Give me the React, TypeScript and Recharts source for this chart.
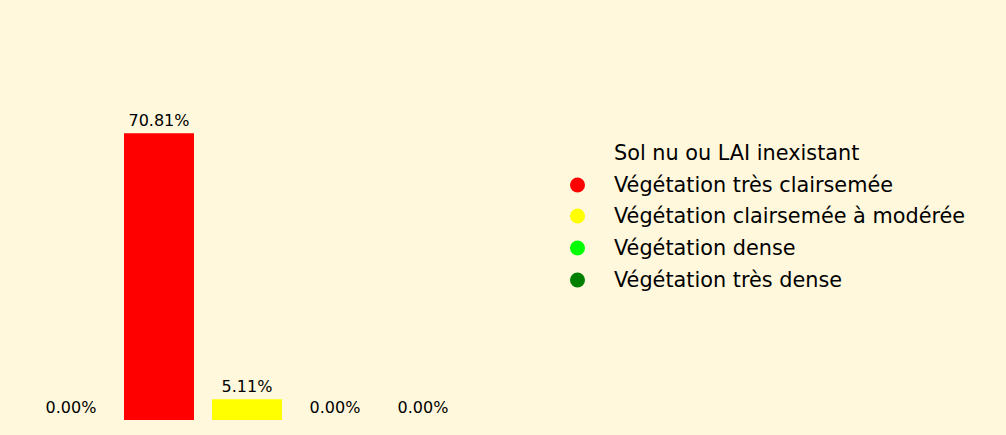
import { BarChart, Bar, XAxis, YAxis, Legend, LabelList, Cell } from 'recharts';

const categories = [
    'Sol nu ou LAI inexistant',
    'Végétation très clairsemée',
    'Végétation clairsemée à modérée',
    'Végétation dense',
    'Végétation très dense',
];
const percentages = [0.0, 70.81, 5.11, 0.0, 0.0];
const colors = ['#FFF8DC', '#FF0000', '#FFFF00', '#00FF00', '#008000'];

const data = categories.map((name, i) => ({ name, value: percentages[i] }));

const BG = '#FFF8DC';
const FONT = '"DejaVu Sans", sans-serif';

const LegendContent = () => (
    <div style={{ fontFamily: FONT, fontSize: 20.8, color: '#000' }}>
        {categories.map((name, i) => (
            <div key={name} style={{ display: 'flex', alignItems: 'center', height: 31.7 }}>
                <svg width={46} height={20} style={{ flexShrink: 0 }}>
                    <circle cx={9.5} cy={10} r={7.5} fill={colors[i]} />
                </svg>
                <span style={{ whiteSpace: 'nowrap' }}>{name}</span>
            </div>
        ))}
    </div>
);

export default function App() {
    return (
        <div style={{ width: 1006, height: 435, background: BG, position: 'fixed', left: 0, top: 0 }}>
            <BarChart
                width={1006}
                height={435}
                data={data}
                margin={{ top: 96, right: 539, left: 27, bottom: 15 }}
            >
                <XAxis dataKey="name" hide />
                <YAxis domain={[0, 80]} hide />
                <Legend
                    layout="horizontal"
                    verticalAlign="middle"
                    align="center"
                    content={<LegendContent />}
                    wrapperStyle={{ position: 'absolute', left: 568, top: 137, width: 430 }}
                />
                <Bar dataKey="value" barSize={70} minPointSize={0.01} isAnimationActive={false}>
                    {data.map((entry, index) => (
                        <Cell key={`cell-${index}`} fill={colors[index]} />
                    ))}
                    <LabelList
                        dataKey="value"
                        position="top"
                        offset={7}
                        formatter={(v: any) => `${Number(v).toFixed(2)}%`}
                        style={{ fontFamily: FONT, fontSize: 16, fill: '#000' }}
                    />
                </Bar>
            </BarChart>
        </div>
    );
}
